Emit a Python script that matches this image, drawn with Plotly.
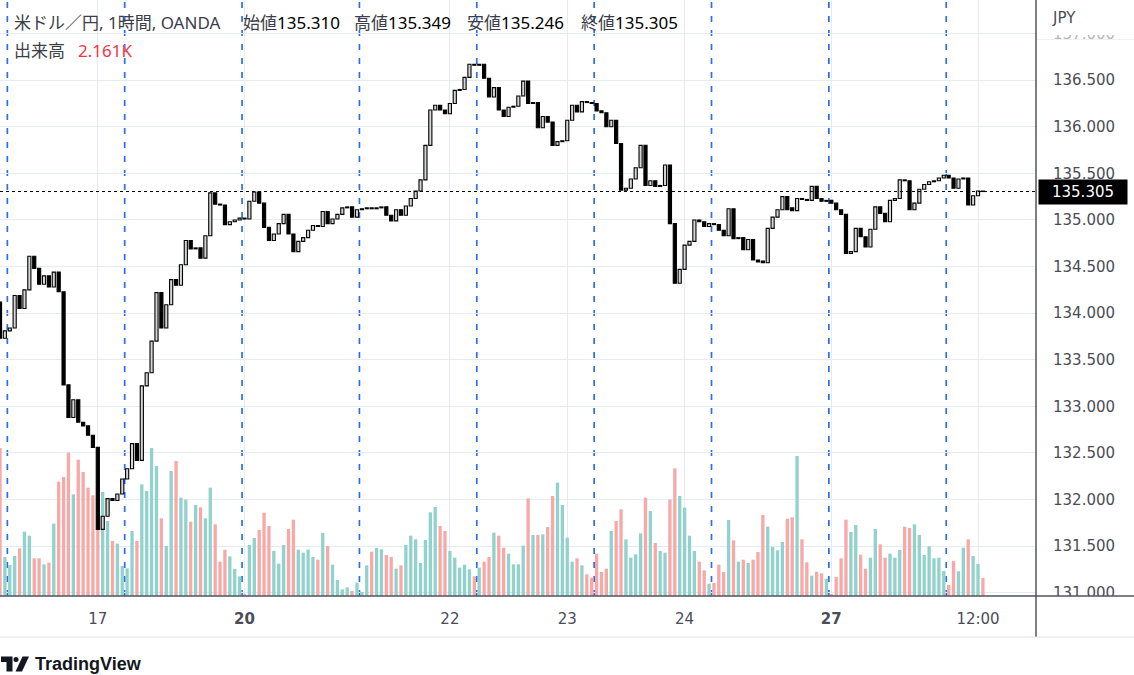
import plotly.graph_objects as go

W, H = 1134, 675
PLOT_W, PLOT_H = 1036, 596

# hourly USD/JPY bars, index 0 = first visible bar
opens = [
    134.12, 133.73, 133.81, 133.84, 134.19, 134.05, 134.25, 134.61, 134.48, 134.31,
    134.40, 134.28, 134.44, 134.23, 133.23, 132.88, 133.07, 132.83, 132.79, 132.69,
    132.56, 131.68, 131.82, 132.01, 131.99, 132.06, 132.22, 132.33, 132.60, 132.42,
    133.22, 133.36, 133.70, 134.22, 133.84, 134.09, 134.36, 134.30, 134.52, 134.78,
    134.69, 134.70, 134.59, 134.83, 135.29, 135.17, 135.16, 134.95, 134.98, 135.00,
    135.02, 135.01, 135.20, 135.30, 135.18, 134.92, 134.78, 134.85, 134.96, 135.06,
    134.85, 134.66, 134.77, 134.81, 134.89, 134.94, 134.93, 135.09, 134.96, 135.01,
    135.06, 135.13, 135.14, 135.03, 135.11, 135.12, 135.13, 135.12, 135.13, 135.14,
    135.05, 134.99, 135.11, 135.05, 135.15, 135.23, 135.31, 135.43, 135.80, 136.18,
    136.23, 136.18, 136.14, 136.25, 136.39, 136.40, 136.53, 136.67, 136.66, 136.67,
    136.52, 136.32, 136.42, 136.18, 136.11, 136.21, 136.22, 136.33, 136.49, 136.25,
    136.26, 135.99, 136.11, 136.05, 135.80, 135.84, 135.85, 136.07, 136.23, 136.16,
    136.27, 136.26, 136.25, 136.17, 136.15, 136.00, 136.07, 135.82, 135.32, 135.34,
    135.44, 135.56, 135.80, 135.37, 135.42, 135.36, 135.37, 135.59, 134.96, 134.32,
    134.47, 134.73, 134.77, 135.00, 134.98, 134.93, 134.96, 134.95, 134.89, 134.83,
    135.12, 134.80, 134.81, 134.68, 134.79, 134.57, 134.56, 134.54, 134.91, 135.03,
    135.11, 135.25, 135.13, 135.10, 135.23, 135.22, 135.21, 135.36, 135.23, 135.20,
    135.21, 135.18, 135.11, 135.06, 134.64, 134.66, 134.91, 134.82, 134.71, 134.90,
    135.14, 135.07, 134.98, 135.21, 135.23, 135.43, 135.42, 135.11, 135.18, 135.33,
    135.38, 135.41, 135.42, 135.45, 135.48, 135.45, 135.34, 135.44, 135.45, 135.16,
    135.26, 135.310,
]
closes = [
    133.73, 133.81, 133.84, 134.19, 134.05, 134.25, 134.61, 134.48, 134.31, 134.40,
    134.28, 134.44, 134.23, 133.23, 132.88, 133.07, 132.83, 132.79, 132.69, 132.56,
    131.68, 131.82, 132.01, 131.99, 132.06, 132.22, 132.33, 132.60, 132.42, 133.22,
    133.36, 133.70, 134.22, 133.84, 134.09, 134.36, 134.30, 134.52, 134.78, 134.69,
    134.70, 134.59, 134.83, 135.29, 135.17, 135.16, 134.95, 134.98, 135.00, 135.02,
    135.01, 135.20, 135.30, 135.18, 134.92, 134.78, 134.85, 134.96, 135.06, 134.85,
    134.66, 134.77, 134.81, 134.89, 134.94, 134.93, 135.09, 134.96, 135.01, 135.06,
    135.13, 135.14, 135.03, 135.11, 135.12, 135.13, 135.12, 135.13, 135.14, 135.05,
    134.99, 135.11, 135.05, 135.15, 135.23, 135.31, 135.43, 135.80, 136.18, 136.23,
    136.18, 136.14, 136.25, 136.39, 136.40, 136.53, 136.67, 136.66, 136.67, 136.52,
    136.32, 136.42, 136.18, 136.11, 136.21, 136.22, 136.33, 136.49, 136.25, 136.26,
    135.99, 136.11, 136.05, 135.80, 135.84, 135.85, 136.07, 136.23, 136.16, 136.27,
    136.26, 136.25, 136.17, 136.15, 136.00, 136.07, 135.82, 135.32, 135.34, 135.44,
    135.56, 135.80, 135.37, 135.42, 135.36, 135.37, 135.59, 134.96, 134.32, 134.47,
    134.73, 134.77, 135.00, 134.98, 134.93, 134.96, 134.95, 134.89, 134.83, 135.12,
    134.80, 134.81, 134.68, 134.79, 134.57, 134.55, 134.54, 134.91, 135.03, 135.11,
    135.25, 135.11, 135.10, 135.23, 135.22, 135.21, 135.36, 135.23, 135.20, 135.21,
    135.18, 135.11, 135.06, 134.64, 134.66, 134.91, 134.82, 134.71, 134.90, 135.14,
    135.07, 134.98, 135.21, 135.23, 135.43, 135.42, 135.11, 135.18, 135.33, 135.38,
    135.41, 135.42, 135.45, 135.48, 135.45, 135.34, 135.44, 135.45, 135.16, 135.26,
    135.31, 135.305,
]
volumes = [
    17760, 4680, 3720, 4800, 5720, 7720, 7240, 4520, 4520, 3800,
    4000, 8680, 13720, 14280, 17200, 12200, 16360, 14880, 13000, 12080,
    13200, 12480, 9000, 6600, 6280, 3600, 3320, 7800, 6600, 13400,
    12600, 17760, 15600, 9320, 6000, 15000, 16200, 11800, 11560, 8920,
    10920, 10640, 9320, 13000, 8600, 4120, 5560, 4760, 3240, 2360,
    280, 6120, 6960, 7920, 10000, 8400, 5400, 3880, 6120, 8040,
    9160, 5560, 5200, 5560, 4680, 4360, 7560, 6000, 3760, 1920,
    800, 1040, 600, 1600, 480, 3680, 5320, 5760, 5600, 4920,
    4680, 3280, 3680, 6120, 7240, 6800, 3960, 6720, 10040, 10680,
    8400, 7800, 5400, 4600, 3400, 3760, 3200, 2360, 3400, 4120,
    4680, 7600, 7240, 5800, 5080, 3800, 3800, 6040, 11720, 7320,
    7320, 7400, 8280, 12000, 13600, 10920, 7000, 4120, 4520, 3680,
    2600, 2200, 5080, 2880, 3280, 7800, 9000, 10400, 6800, 4600,
    5000, 7520, 11800, 10200, 6360, 5400, 5200, 11560, 15320, 12000,
    10600, 7240, 5400, 4120, 3080, 1480, 1560, 3760, 2880, 9120,
    6680, 4120, 4360, 3960, 4360, 5280, 9720, 8320, 5880, 5480,
    6480, 9280, 9440, 16800, 6800, 4040, 2440, 2920, 2720, 2080,
    200, 2280, 4520, 9160, 7680, 8520, 4960, 3280, 4600, 8040,
    6200, 4600, 5080, 4600, 5520, 8320, 8160, 8600, 7320, 4920,
    5960, 4520, 4600, 3000, 1320, 4200, 2960, 5800, 6800, 4800,
    3840, 2161,
]
bars = list(range(len(closes)))

# first bar of each trading session (dashed break lines)
session_starts = [2, 26, 50, 74, 98, 122, 146, 170, 194]
tick_bars = [20, 50, 92, 116, 140, 170, 200]
tick_text = ["17", "<b>20</b>", "22", "23", "24", "<b>27</b>", "12:00"]
price_ticks = [131.0, 131.5, 132.0, 132.5, 133.0, 133.5, 134.0, 134.5,
               135.0, 135.5, 136.0, 136.5, 137.0]

legend_items = [("始値", "135.310"), ("高値", "135.349"), ("安値", "135.246"), ("終値", "135.305")]
last_volume = "2.161K"

TEXT = "#131722"
AXIS_TEXT = "#4a4d57"
GRID = "#e5ebf2"
NUM_FONT = "DejaVu Sans"
JP_FONT = "Noto Sans, Noto Sans CJK JP"


def px_x(px):
    return px / PLOT_W


def px_y(py):
    return 1 - py / PLOT_H


# candle bodies (wicks are hidden on this chart)
body_base = [min(o, c) for o, c in zip(opens, closes)]
body_size = [abs(c - o) for o, c in zip(opens, closes)]
body_fill = ["#d6d6d6" if c >= o else "#000000" for o, c in zip(opens, closes)]
vol_colors = ["#92d2cc" if c >= o else "#f7a9a7" for o, c in zip(opens, closes)]

fig = go.Figure()

fig.add_trace(go.Bar(
    x=bars, y=volumes, marker_color=vol_colors, marker_line_width=0,
    width=0.68, yaxis="y", hoverinfo="skip"
))
fig.add_trace(go.Bar(
    x=bars, y=body_size, base=body_base, yaxis="y2", width=0.64,
    marker=dict(color=body_fill, line=dict(color="#000000", width=1.1)),
    hoverinfo="skip"
))

shapes = []
for s in session_starts:
    shapes.append(dict(type="line", xref="x", yref="paper", x0=s - 0.5, x1=s - 0.5, y0=0, y1=1,
                       line=dict(color="#2b6ef2", width=1.7, dash="6px,8px"), layer="between"))

# last price line
shapes.append(dict(type="line", xref="paper", yref="y2", x0=0, x1=1, y0=closes[-1], y1=closes[-1],
                   line=dict(color="#000000", width=1, dash="dot"), layer="above"))

# price-scale header and bottom area covers
shapes.append(dict(type="rect", xref="paper", yref="paper", x0=px_x(1037), x1=px_x(1134),
                   y0=px_y(35), y1=px_y(0), fillcolor="white", line=dict(width=0), layer="above"))
shapes.append(dict(type="rect", xref="paper", yref="paper", x0=px_x(1037), x1=px_x(1134),
                   y0=px_y(39), y1=px_y(35), fillcolor="rgba(255,255,255,0.6)", line=dict(width=0),
                   layer="above"))
shapes.append(dict(type="line", xref="paper", yref="paper", x0=px_x(1037), x1=px_x(1134),
                   y0=px_y(39.5), y1=px_y(39.5), line=dict(color="#eef1f6", width=1), layer="above"))
shapes.append(dict(type="rect", xref="paper", yref="paper", x0=px_x(1037), x1=px_x(1134),
                   y0=px_y(636), y1=px_y(596), fillcolor="white", line=dict(width=0), layer="above"))

# axis frame lines
shapes.append(dict(type="line", xref="paper", yref="paper", x0=0, x1=px_x(1134),
                   y0=px_y(596), y1=px_y(596), line=dict(color="#50535e", width=1.5), layer="above"))
shapes.append(dict(type="line", xref="paper", yref="paper", x0=px_x(1036), x1=px_x(1036),
                   y0=px_y(0), y1=px_y(637), line=dict(color="#50535e", width=1.5), layer="above"))
shapes.append(dict(type="line", xref="paper", yref="paper", x0=0, x1=px_x(1134),
                   y0=px_y(637), y1=px_y(637), line=dict(color="#e0e3eb", width=1), layer="above"))

# TradingView logo glyph
shapes.append(dict(type="path", xref="paper", yref="paper",
                   path=("M {} {} L {} {} L {} {} L {} {} L {} {} L {} {} Z").format(
                       px_x(1), px_y(656.5), px_x(12.5), px_y(656.5), px_x(12.5), px_y(671.5),
                       px_x(6.5), px_y(671.5), px_x(6.5), px_y(662), px_x(1), px_y(662)),
                   fillcolor=TEXT, line=dict(width=0), layer="above"))
shapes.append(dict(type="circle", xref="paper", yref="paper",
                   x0=px_x(13.5), x1=px_x(18.5), y0=px_y(662), y1=px_y(657),
                   fillcolor=TEXT, line=dict(width=0), layer="above"))
shapes.append(dict(type="path", xref="paper", yref="paper",
                   path="M {} {} L {} {} L {} {} L {} {} Z".format(
                       px_x(22.5), px_y(656.5), px_x(29), px_y(656.5), px_x(22), px_y(671.5),
                       px_x(15.5), px_y(671.5)),
                   fillcolor=TEXT, line=dict(width=0), layer="above"))

annotations = []
annotations.append(dict(xref="paper", yref="paper", x=px_x(12), y=px_y(22), xanchor="left", yanchor="middle",
                        text="米ドル／円, 1時間, OANDA", showarrow=False,
                        font=dict(family=JP_FONT, size=17, color="#3b3e48")))
item_x = [241, 352, 465, 579]
for (lab, val), x in zip(legend_items, item_x):
    annotations.append(dict(xref="paper", yref="paper", x=px_x(x), y=px_y(22), xanchor="left",
                            yanchor="middle", showarrow=False,
                            text=f'{lab}<span style="color:#000000">{val}</span>',
                            font=dict(family=JP_FONT, size=17, color="#3b3e48")))
annotations.append(dict(xref="paper", yref="paper", x=px_x(12), y=px_y(50), xanchor="left", yanchor="middle",
                        text="出来高", showarrow=False,
                        font=dict(family=JP_FONT, size=17, color="#3b3e48")))
annotations.append(dict(xref="paper", yref="paper", x=px_x(76), y=px_y(50), xanchor="left", yanchor="middle",
                        text=last_volume, showarrow=False,
                        font=dict(family=JP_FONT, size=17, color="#f23645")))
annotations.append(dict(xref="paper", yref="paper", x=px_x(1050), y=px_y(18), xanchor="left", yanchor="middle",
                        text="JPY", showarrow=False,
                        font=dict(family=NUM_FONT, size=15, color=AXIS_TEXT)))
annotations.append(dict(xref="paper", yref="y2", x=px_x(1038), y=closes[-1], xanchor="left", yanchor="middle",
                        text=f"{closes[-1]:.3f}", showarrow=False, bgcolor="#000000", width=84, height=20,
                        borderpad=2, font=dict(family=NUM_FONT, size=15, color="white")))
annotations.append(dict(xref="paper", yref="paper", x=px_x(33), y=px_y(664), xanchor="left", yanchor="middle",
                        text="<b>TradingView</b>", showarrow=False,
                        font=dict(family="Liberation Sans", size=18, color=TEXT)))

fig.update_layout(
    width=W, height=H,
    margin=dict(l=0, r=W - PLOT_W, t=0, b=H - PLOT_H, pad=0, autoexpand=False),
    paper_bgcolor="white", plot_bgcolor="white",
    showlegend=False, barmode="overlay",
    xaxis=dict(range=[0, 211.86], tickvals=tick_bars, ticktext=tick_text,
               showgrid=True, gridcolor=GRID, gridwidth=1, zeroline=False, showline=False,
               ticks="", ticklabelstandoff=12,
               tickfont=dict(family=NUM_FONT, size=15, color=AXIS_TEXT), fixedrange=True),
    yaxis=dict(range=[0, 71520], visible=False, showgrid=False, fixedrange=True),
    yaxis2=dict(overlaying="y", side="right", range=[130.965, 137.36], tickvals=price_ticks,
                tickformat=".3f", showgrid=True, gridcolor=GRID, gridwidth=1, zeroline=False,
                showline=False, ticks="", ticklabelstandoff=16,
                tickfont=dict(family=NUM_FONT, size=15, color=AXIS_TEXT), fixedrange=True),
    shapes=shapes, annotations=annotations,
)

fig.write_html("out.html", config={"displayModeBar": False},
               post_script="document.body.style.margin='0';")
